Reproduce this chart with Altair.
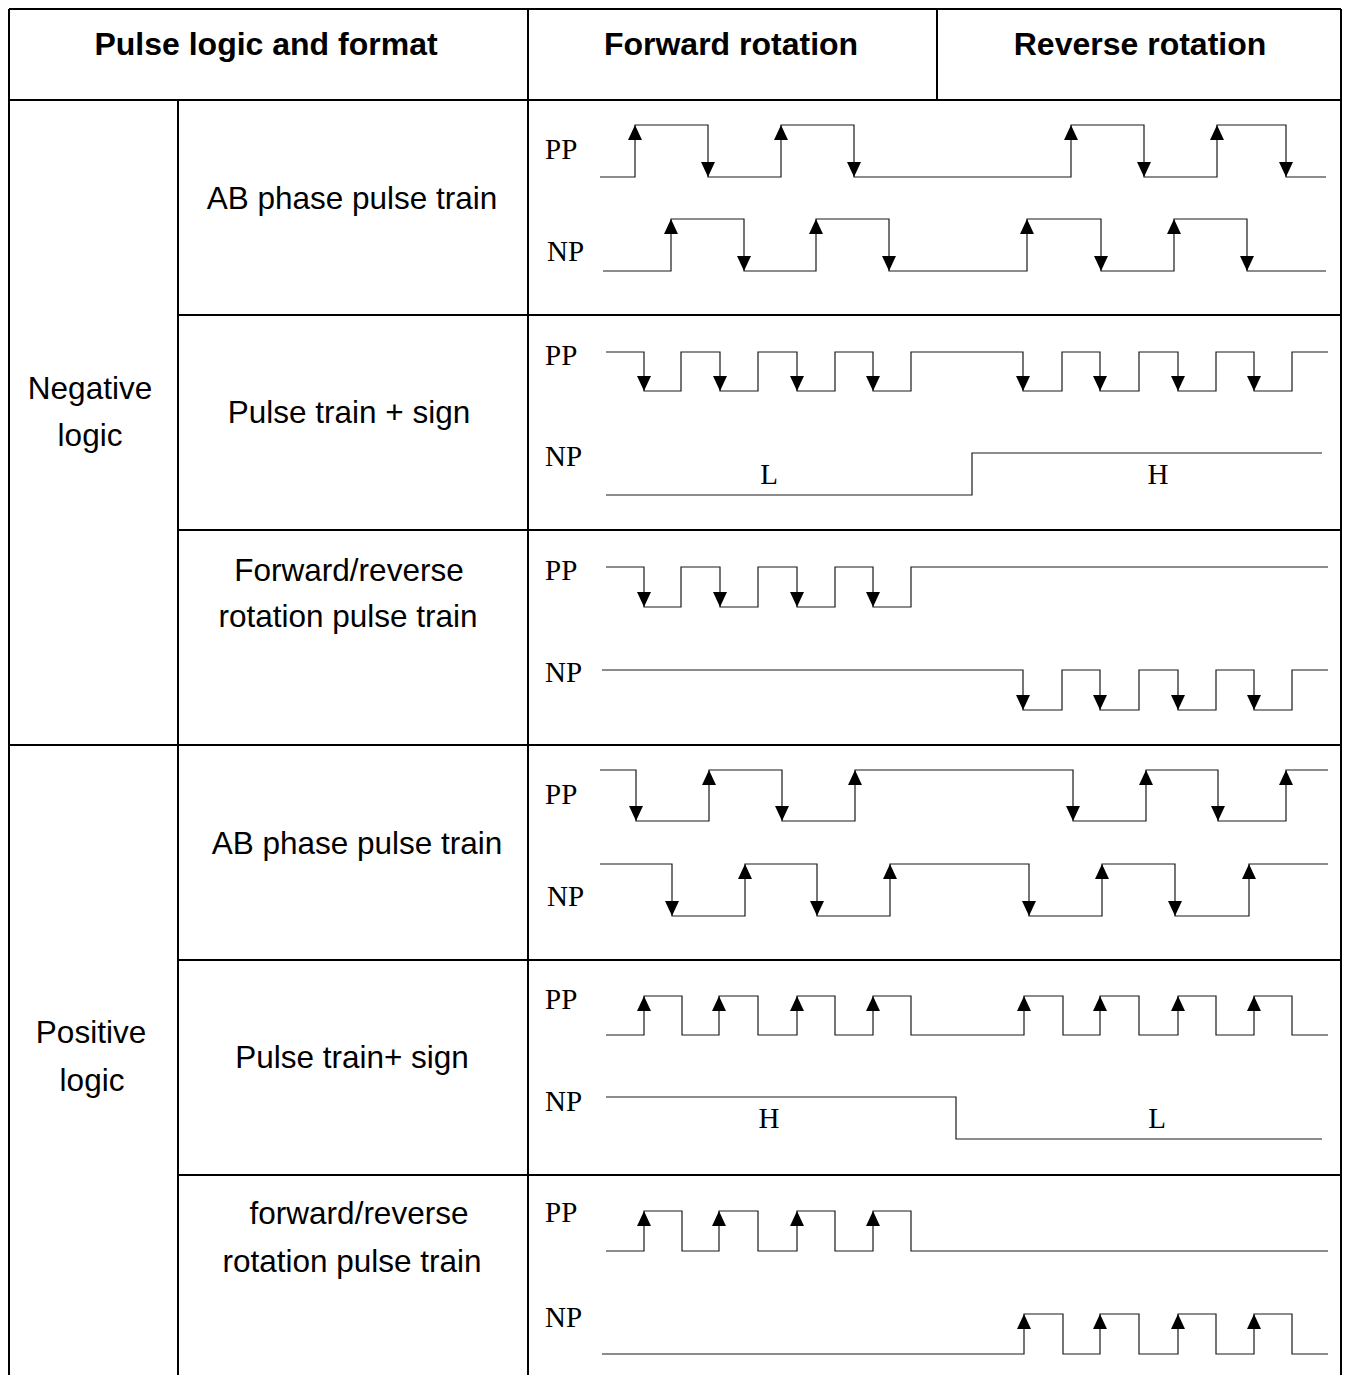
import altair as alt
import pandas as pd

# ---------------- table grid (reference pixel units) ----------------
h_rule_y = [4, 100, 315, 530, 745, 960, 1175]
h_rule_x1 = [4, 4, 178, 178, 4, 178, 178]
h_rule_x2 = [1346, 1346, 1346, 1346, 1346, 1346, 1346]
v_rule_x = [4, 178, 528, 937, 1346]
v_rule_y1 = [4, 100, 4, 4, 4]
v_rule_y2 = [1390, 1390, 1390, 100, 1390]

# ---------------- header & row labels ----------------
header_text = ["Pulse logic and format", "Forward rotation", "Reverse rotation"]
header_x = [266, 731, 1140]
header_y = [45, 45, 45]

label_text = ["Negative", "logic", "Positive", "logic",
              "AB phase pulse train", "Pulse train + sign",
              "Forward/reverse", "rotation pulse train",
              "AB phase pulse train", "Pulse train+ sign",
              "forward/reverse", "rotation pulse train"]
label_x = [90, 90, 91, 92, 352, 349, 349, 348, 357, 352, 359, 352]
label_y = [390, 437, 1034, 1082, 200, 414, 572, 618, 845, 1059, 1215, 1263]

# ---------------- signal names & level letters ----------------
sig_text = ["PP", "NP"] * 6
sig_x = [545, 547, 545, 545, 545, 545, 545, 547, 545, 545, 545, 545]
sig_y = [150, 252, 356, 457, 571, 673, 795, 897, 1000, 1102, 1213, 1318]

lvl_text = ["L", "H", "H", "L"]
lvl_x = [769, 1158, 769, 1157]
lvl_y = [475, 475, 1119, 1119]

# ---------------- waveforms: edge positions ----------------
edges_neg_ab_pp = [635, 708, 781, 854, 1071, 1144, 1217, 1286]
edges_neg_ab_np = [671, 744, 816, 889, 1027, 1101, 1174, 1247]
edges_neg_ps_pp = [644, 681, 720, 758, 797, 835, 873, 911, 1023, 1062, 1100, 1139, 1178, 1216, 1254, 1292]
edges_neg_ps_np = [972]
edges_neg_fr_pp = [644, 681, 720, 758, 797, 835, 873, 911]
edges_neg_fr_np = [1023, 1062, 1100, 1139, 1178, 1216, 1254, 1292]
edges_pos_ab_pp = [636, 709, 782, 855, 1073, 1146, 1218, 1286]
edges_pos_ab_np = [672, 745, 817, 890, 1029, 1102, 1175, 1249]
edges_pos_ps_pp = [644, 682, 719, 758, 797, 835, 873, 911, 1024, 1063, 1100, 1139, 1178, 1216, 1254, 1292]
edges_pos_ps_np = [956]
edges_pos_fr_pp = [644, 682, 719, 758, 797, 835, 873, 911]
edges_pos_fr_np = [1024, 1063, 1100, 1139, 1178, 1216, 1254, 1292]

wave_edges = [edges_neg_ab_pp, edges_neg_ab_np, edges_neg_ps_pp, edges_neg_ps_np,
              edges_neg_fr_pp, edges_neg_fr_np, edges_pos_ab_pp, edges_pos_ab_np,
              edges_pos_ps_pp, edges_pos_ps_np, edges_pos_fr_pp, edges_pos_fr_np]
wave_start = [600, 603, 606, 606, 606, 602, 600, 600, 606, 606, 606, 602]
wave_end = [1326, 1326, 1328, 1322, 1328, 1328, 1328, 1328, 1328, 1322, 1328, 1328]
wave_high = [125, 219, 352, 453, 567, 670, 770, 864, 996, 1097, 1211, 1314]
wave_low = [177, 271, 391, 495, 607, 710, 821, 916, 1035, 1139, 1251, 1354]
wave_init = ["L", "L", "H", "L", "H", "H", "H", "H", "L", "H", "L", "L"]
wave_arrows = ["both", "both", "fall", "none", "fall", "fall",
               "both", "both", "rise", "none", "rise", "rise"]

# ---------------- build tables ----------------
grid_rows = []
for y, a, b in zip(h_rule_y, h_rule_x1, h_rule_x2):
    grid_rows.append({"x": a, "x2": b, "y": y, "y2": y})
for x, a, b in zip(v_rule_x, v_rule_y1, v_rule_y2):
    grid_rows.append({"x": x, "x2": x, "y": a, "y2": b})
grid_df = pd.DataFrame(grid_rows)

line_rows, up_rows, down_rows = [], [], []
for w in range(len(wave_edges)):
    hi, lo = wave_high[w], wave_low[w]
    level = wave_init[w]
    k = 0
    line_rows.append({"w": w, "k": k, "x": wave_start[w], "y": hi if level == "H" else lo}); k += 1
    for t in wave_edges[w]:
        line_rows.append({"w": w, "k": k, "x": t, "y": hi if level == "H" else lo}); k += 1
        level = "L" if level == "H" else "H"
        line_rows.append({"w": w, "k": k, "x": t, "y": hi if level == "H" else lo}); k += 1
        if level == "H" and wave_arrows[w] in ("both", "rise"):
            up_rows.append({"x": t, "y": hi})
        if level == "L" and wave_arrows[w] in ("both", "fall"):
            down_rows.append({"x": t, "y": lo})
    line_rows.append({"w": w, "k": k, "x": wave_end[w], "y": hi if level == "H" else lo})
line_df = pd.DataFrame(line_rows)
up_df = pd.DataFrame(up_rows)
down_df = pd.DataFrame(down_rows)

header_df = pd.DataFrame({"t": header_text, "x": header_x, "y": header_y})
label_df = pd.DataFrame({"t": label_text, "x": label_x, "y": label_y})
sig_df = pd.DataFrame({"t": sig_text, "x": sig_x, "y": sig_y})
lvl_df = pd.DataFrame({"t": lvl_text, "x": lvl_x, "y": lvl_y})

# one reference pixel = one screen pixel; outer border clamped to the drawable edge
XS = alt.Scale(domain=[9, 1341], range=[1, 1333], nice=False, zero=False, clamp=True)
YS = alt.Scale(domain=[9, 1375], range=[1, 1367], nice=False, zero=False, clamp=True)


def xy(**extra):
    enc = dict(x=alt.X("x:Q", scale=XS, axis=None),
               y=alt.Y("y:Q", scale=YS, axis=None))
    enc.update(extra)
    return enc


grid = alt.Chart(grid_df).mark_rule(color="black", strokeWidth=2).encode(
    **xy(x2="x2:Q", y2="y2:Q"))

waves = alt.Chart(line_df).mark_line(color="#1a1a1a", strokeWidth=1.2).encode(
    **xy(detail="w:N", order="k:Q"))

UP = "M0,-1L0.93,1L-0.93,1Z"
DOWN = "M0,1L0.93,-1L-0.93,-1Z"
up = alt.Chart(up_df).mark_point(shape=UP, size=225, filled=True, color="black",
                                 opacity=1, strokeWidth=0, yOffset=7.5).encode(**xy())
down = alt.Chart(down_df).mark_point(shape=DOWN, size=225, filled=True, color="black",
                                     opacity=1, strokeWidth=0, yOffset=-7.5).encode(**xy())

header = alt.Chart(header_df).mark_text(font="Liberation Sans", fontWeight="bold",
                                        fontSize=32, align="center", baseline="middle",
                                        color="black").encode(**xy(text="t:N"))
labels = alt.Chart(label_df).mark_text(font="Liberation Sans", fontSize=31.5,
                                       align="center", baseline="middle",
                                       color="black").encode(**xy(text="t:N"))
sigs = alt.Chart(sig_df).mark_text(font="Liberation Serif", fontSize=29,
                                   align="left", baseline="middle",
                                   color="black").encode(**xy(text="t:N"))
lvls = alt.Chart(lvl_df).mark_text(font="Liberation Serif", fontSize=29,
                                   align="center", baseline="middle",
                                   color="black").encode(**xy(text="t:N"))

chart = alt.layer(grid, waves, up, down, header, labels, sigs, lvls).properties(
    width=1334, height=1368, padding=0,
    autosize=alt.AutoSizeParams(type="none"),
    background="white",
).configure_view(stroke=None)

chart.save("out.html", embed_options={"renderer": "svg", "actions": False})
